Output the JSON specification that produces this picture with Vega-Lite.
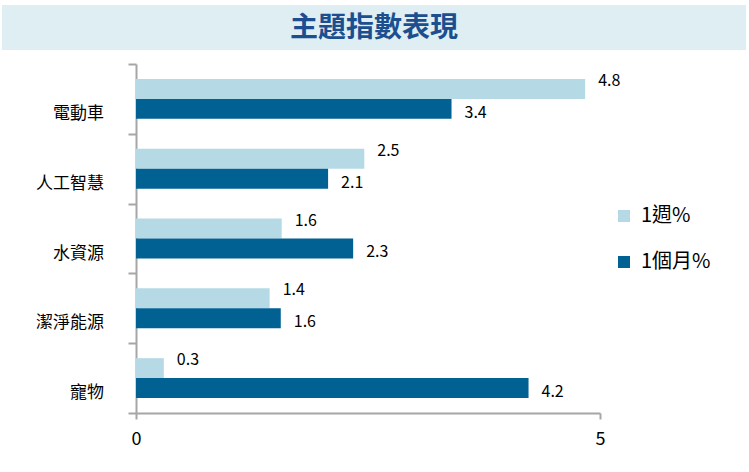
{
  "$schema": "https://vega.github.io/schema/vega-lite/v6.json",
  "padding": {"left": 2, "top": 5, "right": 3, "bottom": 5},
  "background": "white",
  "config": {"view": {"stroke": null}, "font": "Noto Sans CJK TC"},
  "datasets": {
    "title": [{"t": "主題指數表現"}],
    "cats": [{"cat": "電動車"}, {"cat": "人工智慧"}, {"cat": "水資源"}, {"cat": "潔淨能源"}, {"cat": "寵物"}],
    "vals": [
      {"cat": "電動車", "period": "1週%", "value": 4.84},
      {"cat": "電動車", "period": "1個月%", "value": 3.4},
      {"cat": "人工智慧", "period": "1週%", "value": 2.46},
      {"cat": "人工智慧", "period": "1個月%", "value": 2.07},
      {"cat": "水資源", "period": "1週%", "value": 1.57},
      {"cat": "水資源", "period": "1個月%", "value": 2.34},
      {"cat": "潔淨能源", "period": "1週%", "value": 1.44},
      {"cat": "潔淨能源", "period": "1個月%", "value": 1.56},
      {"cat": "寵物", "period": "1週%", "value": 0.3},
      {"cat": "寵物", "period": "1個月%", "value": 4.23}
    ]
  },
  "spacing": 13,
  "vconcat": [
    {
      "width": 744,
      "height": 45,
      "view": {"fill": "#deeef3", "stroke": null},
      "data": {"name": "title"},
      "mark": {"type": "text", "fontSize": 28, "fontWeight": "bold", "color": "#1b4f8f", "baseline": "middle", "align": "center", "dy": 1},
      "encoding": {"text": {"field": "t"}}
    },
    {
      "spacing": 0,
      "hconcat": [
        {
          "width": 125,
          "height": 349,
          "data": {"name": "cats"},
          "mark": {"type": "text", "align": "right", "baseline": "middle", "fontSize": 17, "dx": -23, "dy": 15, "color": "#000000"},
          "encoding": {
            "x": {"value": "width"},
            "y": {"field": "cat", "type": "nominal", "sort": ["電動車", "人工智慧", "水資源", "潔淨能源", "寵物"], "scale": {"paddingInner": 0, "paddingOuter": 0}, "axis": null},
            "text": {"field": "cat"}
          }
        },
        {
          "width": 464,
          "height": 349,
          "data": {"name": "vals"},
          "encoding": {
            "y": {"field": "cat", "type": "nominal", "sort": ["電動車", "人工智慧", "水資源", "潔淨能源", "寵物"], "scale": {"paddingInner": 0, "paddingOuter": 0},
              "axis": {"title": null, "labels": false, "tickBand": "extent", "tickSize": 8, "tickWidth": 2, "tickColor": "#a6a6a6", "domainColor": "#a6a6a6", "domainWidth": 2}},
            "yOffset": {"field": "period", "type": "nominal", "sort": ["1週%", "1個月%"], "scale": {"paddingInner": 0, "paddingOuter": 0.75}},
            "x": {"field": "value", "type": "quantitative", "scale": {"domain": [0, 5]},
              "axis": {"title": null, "values": [0, 5], "grid": false, "tickSize": 6, "tickWidth": 2, "tickColor": "#a6a6a6", "domainColor": "#a6a6a6", "domainWidth": 2, "labelFontSize": 18, "labelPadding": 11, "labelColor": "#000000", "labelFlush": false}}
          },
          "layer": [
            {
              "mark": {"type": "bar"},
              "encoding": {
                "color": {"field": "period", "type": "nominal", "sort": ["1週%", "1個月%"],
                  "scale": {"domain": ["1週%", "1個月%"], "range": ["#b5dae6", "#006192"]},
                  "legend": {"title": null, "orient": "none", "legendX": 612, "legendY": 201, "symbolType": "square", "symbolSize": 144, "labelFontSize": 20, "labelOffset": 7, "rowPadding": 26, "labelColor": "#000000", "padding": 0}}
              }
            },
            {
              "transform": [{"filter": "datum.period === '1週%'"}],
              "mark": {"type": "text", "align": "left", "baseline": "middle", "dx": 13, "dy": -8, "fontSize": 16, "color": "#000000"},
              "encoding": {"text": {"field": "value", "type": "quantitative", "format": ".1f"}}
            },
            {
              "transform": [{"filter": "datum.period === '1個月%'"}],
              "mark": {"type": "text", "align": "left", "baseline": "middle", "dx": 13, "dy": 4, "fontSize": 16, "color": "#000000"},
              "encoding": {"text": {"field": "value", "type": "quantitative", "format": ".1f"}}
            }
          ]
        }
      ]
    }
  ]
}
